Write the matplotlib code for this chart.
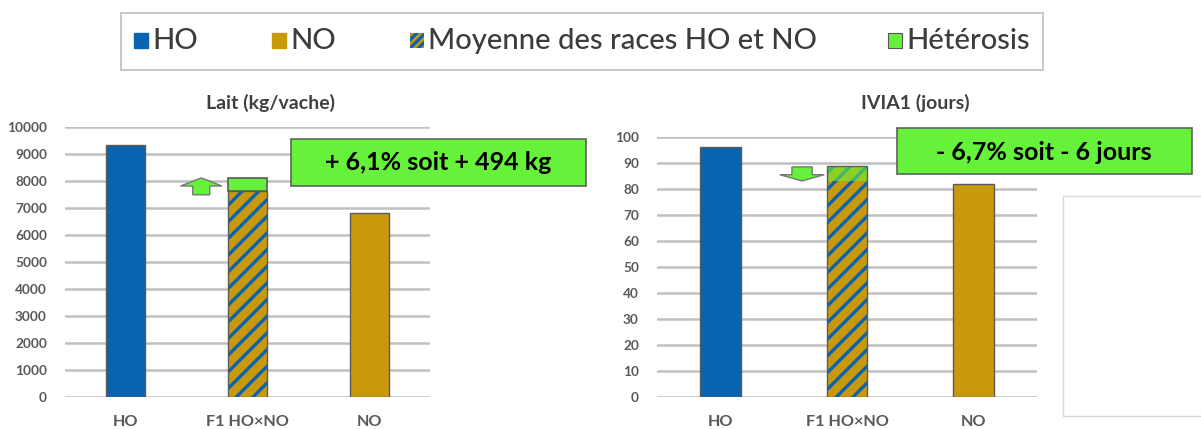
import matplotlib.pyplot as plt
from matplotlib.patches import Rectangle, FancyArrow

plt.rcParams['font.family'] = ['Lato', 'DejaVu Sans']
plt.rcParams['hatch.linewidth'] = 2.4

# data
categories = ['HO', 'F1 HO×NO', 'NO']
lait_ho, lait_no = 9350, 6800
lait_moyenne = 7620
lait_heterosis = 494
ivia_ho, ivia_no = 96, 82
ivia_moyenne = 89
ivia_heterosis = -6

lait_ticks = list(range(0, 10001, 1000))
ivia_ticks = list(range(0, 101, 10))

c_ho = '#0a63b0'
c_no = '#c9990d'
c_green = '#66f23a'
c_edge = '#5a5a5a'
c_text = '#595959'

W, H = 1201, 429
fig = plt.figure(figsize=(W / 100, H / 100), dpi=100)


def px_rect(x0, y0, x1, y1, **kw):
    # rectangle given in image pixels (y from top)
    r = Rectangle((x0 / W, 1 - y1 / H), (x1 - x0) / W, (y1 - y0) / H,
                  transform=fig.transFigure, **kw)
    fig.add_artist(r)
    return r


def setup(ax, ymax, ticks):
    ax.set_xlim(-0.5, 2.5)
    ax.set_ylim(0, ymax)
    ax.set_yticks(ticks)
    ax.yaxis.grid(True, color='#c0c0c0', lw=1.8)
    ax.set_axisbelow(True)
    for s in ax.spines.values():
        s.set_visible(False)
    ax.tick_params(length=0)
    ax.tick_params(axis='y', pad=13, labelsize=9.8, labelcolor=c_text)
    ax.tick_params(axis='x', pad=13, labelsize=11.7, labelcolor=c_text)
    ax.set_xticks(range(3))
    ax.set_xticklabels(categories, fontweight='bold')
    for t in ax.get_yticklabels():
        t.set_fontweight('bold')


bw = 0.32

# ---- Lait
ax1 = fig.add_axes([65 / W, 1 - 397 / H, 365 / W, 270 / H])
setup(ax1, 10000, lait_ticks)
ax1.bar(0, lait_ho, bw, color=c_ho, edgecolor=c_edge, lw=1)
ax1.bar(2, lait_no, bw, color=c_no, edgecolor=c_edge, lw=1)
ax1.bar(1, lait_moyenne, bw, color=c_no, edgecolor=c_ho, hatch='//', lw=0)
ax1.bar(1, lait_moyenne, bw, fill=False, edgecolor=c_edge, lw=1)
ax1.bar(1, lait_heterosis, bw, bottom=lait_moyenne, color=c_green,
        edgecolor=c_edge, lw=1.2)
ax1.add_patch(FancyArrow(0.62, lait_moyenne - 130, 0, lait_heterosis + 130,
                         width=0.14, head_width=0.34, head_length=300,
                         length_includes_head=True, fc=c_green, ec='#777777', lw=1))

# ---- IVIA1
ax2 = fig.add_axes([657 / W, 1 - 397 / H, 380 / W, 260 / H])
setup(ax2, 100, ivia_ticks)
ax2.bar(0, ivia_ho, bw, color=c_ho, edgecolor=c_edge, lw=1)
ax2.bar(2, ivia_no, bw, color=c_no, edgecolor=c_edge, lw=1)
ax2.bar(1, ivia_moyenne, bw, color=c_no, edgecolor=c_ho, hatch='//', lw=0)
ax2.bar(1, -ivia_heterosis, bw, bottom=ivia_moyenne + ivia_heterosis,
        color=c_green, alpha=0.6, lw=0)
ax2.bar(1, ivia_moyenne, bw, fill=False, edgecolor=c_edge, lw=1)
ax2.add_patch(FancyArrow(0.645, ivia_moyenne - 0.5, 0, ivia_heterosis + 0.6,
                         width=0.16, head_width=0.35, head_length=2.4,
                         length_includes_head=True, fc=c_green, ec='#777777', lw=1))

# titles
fig.text(270 / W, 1 - 103 / H, 'Lait (kg/vache)', ha='center', va='center',
         fontsize=14, fontweight='bold', color='#404040')
fig.text(915 / W, 1 - 103 / H, 'IVIA1 (jours)', ha='center', va='center',
         fontsize=14, fontweight='bold', color='#404040')

# heterosis boxes
px_rect(291, 139, 586, 186, fc=c_green, ec='#606060', lw=1.2, zorder=5)
fig.text(438 / W, 1 - 163 / H, '+ 6,1% soit + 494 kg', ha='center', va='center',
         fontsize=18, fontweight='bold', color='black', zorder=6)
px_rect(897, 128, 1192, 174, fc=c_green, ec='#606060', lw=1.2, zorder=5)
fig.text(1044 / W, 1 - 152 / H, '- 6,7% soit - 6 jours', ha='center', va='center',
         fontsize=18, fontweight='bold', color='black', zorder=6)

# empty frame at the right
px_rect(1063, 196, 1210, 416, fc='white', ec='#d9d9d9', lw=1, zorder=1)

# legend
px_rect(121, 13, 1043, 70, fc='white', ec='#bfbfbf', lw=1.2)
legend_items = [
    (134, 'HO', dict(fc=c_ho, ec=c_ho)),
    (272, 'NO', dict(fc=c_no, ec=c_no)),
    (410, 'Moyenne des races HO et NO', dict(fc=c_no, ec=c_ho, hatch='////', lw=0)),
    (888, 'Hétérosis', dict(fc=c_green, ec='#555555', lw=0.8)),
]
for x, label, style in legend_items:
    r = px_rect(x, 33, x + 14, 48, **style)
    fig.text((x + 18) / W, 1 - 41 / H, label, ha='left', va='center',
             fontsize=21, fontweight='medium', color='#3c3c3c')

fig.savefig('out.png', dpi=100)
